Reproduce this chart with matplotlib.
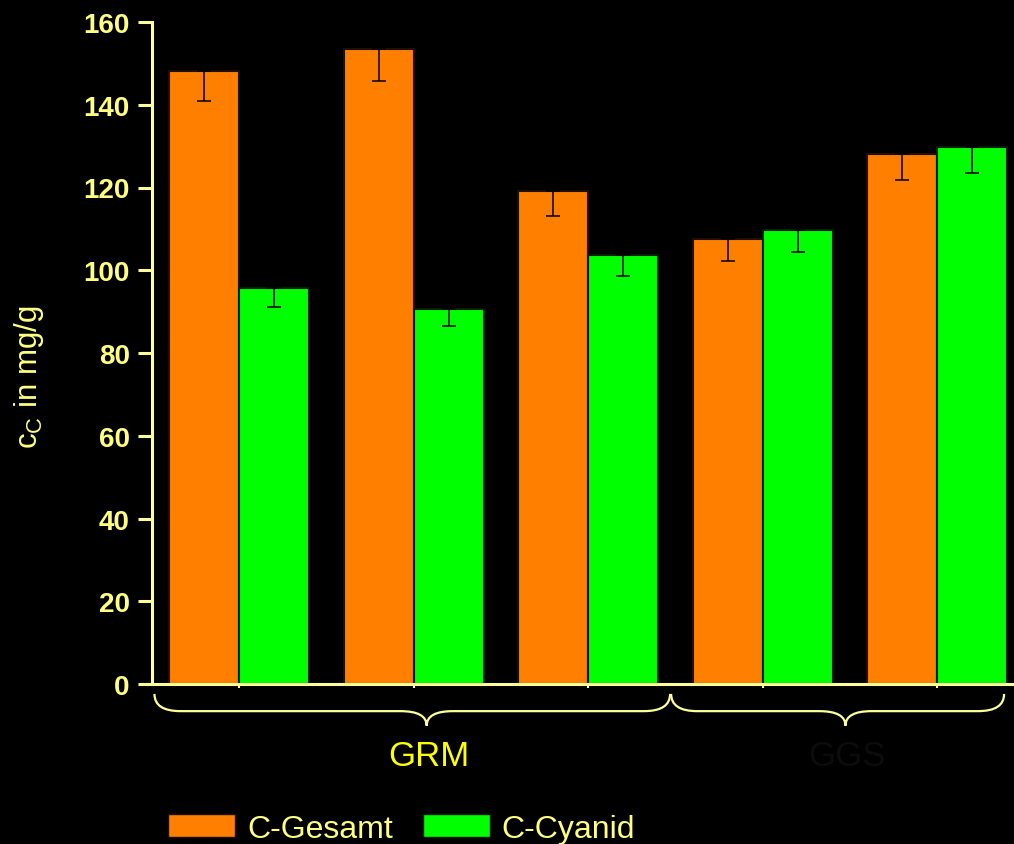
import numpy as np
import matplotlib
matplotlib.use("Agg")
import matplotlib.pyplot as plt
from matplotlib.path import Path
from matplotlib.patches import PathPatch, Patch
from matplotlib.transforms import blended_transform_factory

plt.rcParams['font.family'] = ['Liberation Sans', 'DejaVu Sans']

# mean carbon content per sample, with lower standard deviation
samples = ['1', '2', '3', '4', '5']
c_gesamt = [148.2, 153.5, 119.2, 107.6, 128.1]
c_gesamt_err = [7.3, 7.8, 6.0, 5.4, 6.3]
c_cyanid = [95.7, 90.6, 103.7, 109.7, 129.8]
c_cyanid_err = [4.6, 4.1, 5.0, 5.3, 6.3]

# sample groups shown with braces under the x axis (start, tip, end in data units)
groups = ['GRM', 'GGS']
group_spans = [(-0.486, 1.074, 2.469), (2.475, 3.474, 4.383)]
group_colors = ['#ffff00', '#0c0c0c']

yticks = [0, 20, 40, 60, 80, 100, 120, 140, 160]

axis_col = '#ffff99'
label_col = '#ffff80'

fig = plt.figure(figsize=(10.14, 8.45), dpi=100, facecolor='black')
ax = fig.add_axes([152 / 1014, 160 / 845, (1024.5 - 152) / 1014, 662 / 845])
ax.set_facecolor('black')

x = np.arange(len(samples))
w = 0.4
zeros = [0] * len(samples)
ax.bar(x - w / 2, c_gesamt, w, color='#ff8000', edgecolor='#1e0f00', linewidth=1.5,
       yerr=[c_gesamt_err, zeros], error_kw=dict(ecolor='black', elinewidth=1.1, capsize=5, capthick=1.1))
ax.bar(x + w / 2, c_cyanid, w, color='#00ff00', edgecolor='#001e00', linewidth=1.5,
       yerr=[c_cyanid_err, zeros], error_kw=dict(ecolor='black', elinewidth=1.1, capsize=5, capthick=1.1))

ax.set_xlim(-0.5, 4.5)
ax.set_ylim(0, 160)
ax.set_yticks(yticks)
ax.set_yticklabels([str(t) for t in yticks], fontsize=20, fontweight='bold', color=label_col)
ax.set_xticks(x)
ax.set_xticklabels([])
ax.tick_params(axis='y', length=10, width=2.2, color=axis_col, pad=6)
ax.tick_params(axis='x', length=3, width=1.5, color=axis_col)

for side in ['top', 'right']:
    ax.spines[side].set_visible(False)
for side in ['left', 'bottom']:
    ax.spines[side].set_color(axis_col)
    ax.spines[side].set_linewidth(2.2)
ax.spines['bottom'].set_zorder(5)

ax.set_ylabel('c$_\\mathregular{C}$ in mg/g', fontsize=22.5, color=label_col)
ax.yaxis.set_label_coords(-0.121, 0.465)


def brace(ax, x0, xc, x1, color):
    # curly brace under the x axis, x in data units, y in axes fraction
    top, mid, tip = -0.015, -0.041, -0.063
    r = 0.15
    verts = [(x0, top), (x0, mid), (x0 + r, mid),
             (xc - r, mid), (xc, mid), (xc, tip),
             (xc, mid), (xc + r, mid),
             (x1 - r, mid), (x1, mid), (x1, top)]
    codes = [Path.MOVETO, Path.CURVE3, Path.CURVE3,
             Path.LINETO, Path.CURVE3, Path.CURVE3,
             Path.CURVE3, Path.CURVE3,
             Path.LINETO, Path.CURVE3, Path.CURVE3]
    tr = blended_transform_factory(ax.transData, ax.transAxes)
    ax.add_patch(PathPatch(Path(verts, codes), fill=False, edgecolor=color,
                           linewidth=1.6, transform=tr, clip_on=False))


tr = blended_transform_factory(ax.transData, ax.transAxes)
for name, (x0, xc, x1), col in zip(groups, group_spans, group_colors):
    brace(ax, x0, xc, x1, axis_col)
    ax.text(xc + 0.01, -0.108, name, transform=tr, ha='center', va='center',
            fontsize=25, color=col)

handles = [Patch(facecolor='#ff8000', edgecolor='#1e0f00', label='C-Gesamt'),
           Patch(facecolor='#00ff00', edgecolor='#001e00', label='C-Cyanid')]
leg = fig.legend(handles=handles, loc='center left', bbox_to_anchor=(168 / 1014, 1 - 830 / 845),
                 ncol=2, frameon=False, fontsize=23, handlelength=2.1, handleheight=0.72,
                 handletextpad=0.37, columnspacing=0.94, borderpad=0, borderaxespad=0)
for t in leg.get_texts():
    t.set_color(label_col)

fig.savefig('out.png', dpi=100, facecolor='black')
